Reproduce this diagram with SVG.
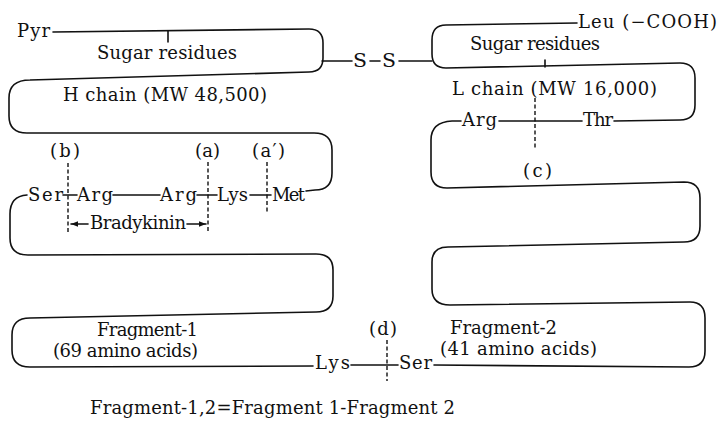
<svg xmlns="http://www.w3.org/2000/svg" width="719" height="426" viewBox="0 0 719 426">
<defs>
<style>
text{font-family:"DejaVu Serif","Liberation Serif",serif;font-size:18px;fill:#111}
.ln{fill:none;stroke:#111;stroke-width:1.6;stroke-linecap:round;stroke-linejoin:round}
.ds{fill:none;stroke:#111;stroke-width:1.4;stroke-dasharray:4 2.5}
</style>
<marker id="ah" viewBox="0 0 10 10" refX="10" refY="5" markerWidth="8" markerHeight="7" orient="auto" markerUnits="userSpaceOnUse"><path d="M0,1 L10,5 L0,9 Z" fill="#111"/></marker>
</defs>
<rect width="719" height="426" fill="#fff"/>
<g id="connectors">
<path class="ln" d="M 53 32 L 309 29 Q 323 29 323 43 L 323 58 Q 323 72 309 72 L 30 80 Q 9 80 9 98 L 9 116 Q 9 133 27 133 L 314 133 Q 332 133 332 150 L 332 173 Q 332 190 315 190 L 306 191"/>
<path class="ln" d="M 27 195 Q 10 196 10 214 L 10 238 Q 10 255 28 255 L 316 254 Q 333 254 333 270 L 333 296 Q 333 312 316 312 L 30 318 Q 12 318 12 335 L 12 350 Q 12 367 30 367 L 313 366"/>
<path class="ln" d="M 63 195 L 77 195 M 113 195 L 160 195 M 197 195 L 217 195 M 250 195 L 271 195"/>
<path class="ln" d="M 322 61 L 352 61 M 370 61 L 380 61 M 399 61 L 432 61"/>
<path class="ln" d="M 577 23 L 446 25 Q 432 25 432 40 L 432 54 Q 432 68 446 68 L 680 63 Q 695 63 695 78 L 695 105 Q 695 120 680 120 L 614 121"/>
<path class="ln" d="M 499 121 L 582 121"/>
<path class="ln" d="M 461 121 L 452 121 Q 431 122 431 140 L 431 172 Q 431 188 447 188 L 684 182 Q 700 182 700 198 L 700 226 Q 700 242 684 242 L 448 247 Q 432 247 432 262 L 432 289 Q 432 305 450 305 L 690 302 Q 705 302 705 318 L 705 351 Q 705 367 689 367 L 434 365"/>
<path class="ln" d="M 351 365 L 398 365"/>
<path class="ln" d="M 168 31 L 168 42 M 545 67 L 545 60"/>
<path class="ds" d="M 68 163 L 68 232 M 208 162 L 208 231 M 267 162 L 267 212 M 535 98 L 535 148 M 387 340 L 387 381"/>
<path class="ln" d="M 88 224 L 71 224" marker-end="url(#ah)"/>
<path class="ln" d="M 187 224 L 206 224" marker-end="url(#ah)"/>
</g>
<g id="pyr"><text x="17" y="37" textLength="33" lengthAdjust="spacing">Pyr</text></g>
<g id="h-sugar"><text x="97" y="59" textLength="140" lengthAdjust="spacing">Sugar residues</text></g>
<g id="h-chain"><text x="63" y="101" textLength="204" lengthAdjust="spacing">H chain (MW 48,500)</text></g>
<g id="ss"><text x="353" y="67" textLength="14" lengthAdjust="spacingAndGlyphs">S</text><text x="382" y="67" textLength="14" lengthAdjust="spacingAndGlyphs">S</text></g>
<g id="leu"><text x="578" y="28" textLength="139" lengthAdjust="spacing">Leu (−COOH)</text></g>
<g id="l-sugar"><text x="470" y="50" textLength="130" lengthAdjust="spacing">Sugar residues</text></g>
<g id="l-chain"><text x="452" y="95" textLength="205" lengthAdjust="spacing">L chain (MW 16,000)</text></g>
<g id="l-arg"><text x="462" y="126" textLength="35" lengthAdjust="spacing">Arg</text></g>
<g id="l-thr"><text x="583" y="126" textLength="30" lengthAdjust="spacing">Thr</text></g>
<g id="site-c"><text x="523" y="177" textLength="29" lengthAdjust="spacing">(c)</text></g>
<g id="site-b"><text x="50" y="157" textLength="30" lengthAdjust="spacing">(b)</text></g>
<g id="site-a"><text x="195" y="157" textLength="25" lengthAdjust="spacing">(a)</text></g>
<g id="site-a2"><text x="252" y="157" textLength="33" lengthAdjust="spacing">(a′)</text></g>
<g id="h-ser"><text x="28" y="201" textLength="35" lengthAdjust="spacing">Ser</text></g>
<g id="h-arg1"><text x="77" y="201" textLength="36" lengthAdjust="spacing">Arg</text></g>
<g id="h-arg2"><text x="160" y="201" textLength="37" lengthAdjust="spacing">Arg</text></g>
<g id="h-lys"><text x="217" y="201" textLength="31" lengthAdjust="spacing">Lys</text></g>
<g id="h-met"><text x="272" y="201" textLength="33" lengthAdjust="spacing">Met</text></g>
<g id="bradykinin"><text x="90" y="229" textLength="96" lengthAdjust="spacing">Bradykinin</text></g>
<g id="fragment-1"><text x="97" y="336" textLength="101" lengthAdjust="spacing">Fragment-1</text><text x="53" y="357" textLength="145" lengthAdjust="spacing">(69 amino acids)</text></g>
<g id="site-d"><text x="369" y="335" textLength="28" lengthAdjust="spacing">(d)</text></g>
<g id="fragment-2"><text x="450" y="334" textLength="107" lengthAdjust="spacing">Fragment-2</text><text x="440" y="355" textLength="157" lengthAdjust="spacing">(41 amino acids)</text></g>
<g id="b-lys"><text x="315" y="369" textLength="35" lengthAdjust="spacing">Lys</text></g>
<g id="b-ser"><text x="399" y="369" textLength="33" lengthAdjust="spacing">Ser</text></g>
<g id="caption"><text x="90" y="414" textLength="365" lengthAdjust="spacing">Fragment-1,2=Fragment 1-Fragment 2</text></g>
</svg>
